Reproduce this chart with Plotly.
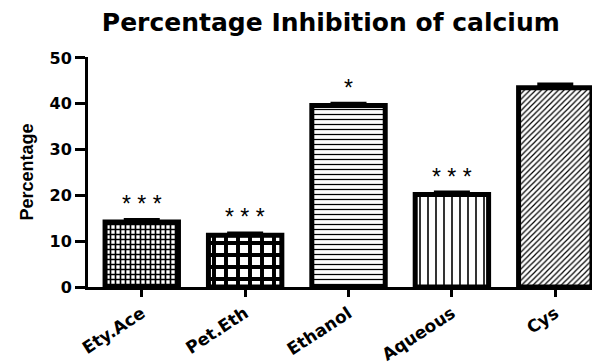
import plotly.graph_objects as go

categories = ["Ety.Ace", "Pet.Eth", "Ethanol", "Aqueous", "Cys"]
values = [14.2, 11.3, 39.6, 20.2, 43.5]
errors = [0.4, 0.4, 0.4, 0.4, 0.7]
signif = ["* * *", "* * *", "*", "* * *", ""]
patterns = ["+", "+", "-", "|", "/"]
pattern_sizes = [5, 12, 5, 8, 4]
pattern_solid = [0.55, 0.55, 0.25, 0.2, 0.3]

BOLD = "DejaVu Sans"

fig = go.Figure()
fig.add_trace(go.Bar(
    x=categories, y=values,
    width=0.71,
    marker=dict(
        color="white",
        line=dict(color="black", width=5),
        pattern=dict(shape=patterns, size=pattern_sizes, solidity=pattern_solid,
                     fgcolor="black", bgcolor="white", fillmode="replace"),
    ),
    error_y=dict(type="data", array=errors, symmetric=False, arrayminus=[0]*5,
                 color="black", thickness=4, width=18),
    showlegend=False,
))

for c, v, e, s in zip(categories, values, errors, signif):
    if s:
        fig.add_annotation(x=c, y=v + e, text=s, showarrow=False, yanchor="bottom",
                           yshift=1, font=dict(family="Liberation Sans", size=23, color="black"))

fig.update_layout(
    width=600, height=363,
    margin=dict(l=80, r=0, t=49, b=84),
    plot_bgcolor="white", paper_bgcolor="white",
    title=dict(text="<b>Percentage Inhibition of calcium</b>", x=0.538, xanchor="center",
               y=0.961, yanchor="middle",
               font=dict(family=BOLD, size=25, color="black")),
    xaxis=dict(range=[-0.52, 4.51], showline=True, linecolor="black", linewidth=3,
               ticks="outside", ticklen=7, tickwidth=3, tickcolor="black",
               tickangle=-33, tickfont=dict(family=BOLD, size=17, color="black"),
               showgrid=False, zeroline=False, automargin=False,
               tickvals=categories, ticktext=[f"<b>{c}</b>" for c in categories]),
    yaxis=dict(range=[0, 50.2], showline=True, linecolor="black", linewidth=3,
               ticks="outside", ticklen=10, tickwidth=3, tickcolor="black",
               tickvals=[0, 10, 20, 30, 40, 50], ticktext=[f"<b>{v}</b>" for v in [0, 10, 20, 30, 40, 50]],
               tickfont=dict(family=BOLD, size=16, color="black"),
               showgrid=False, zeroline=False, automargin=False,
               title=dict(text="<b>Percentage</b>", standoff=12,
                          font=dict(family="Liberation Sans Narrow, Liberation Sans", size=18, color="black"))),
)

fig.write_html("out.html")
